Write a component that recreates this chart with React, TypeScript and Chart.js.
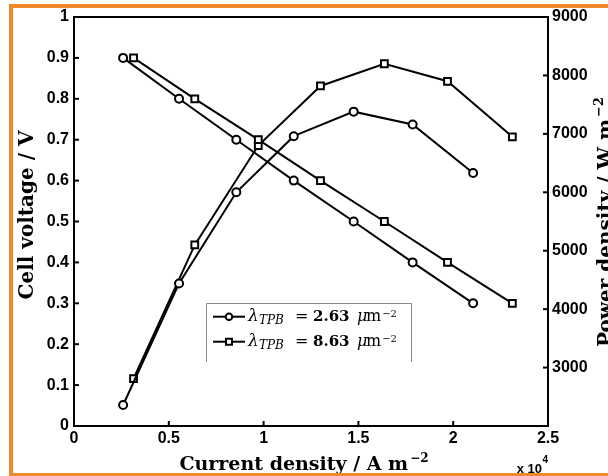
import React, { useEffect, useRef } from "react";
import { Chart, registerables } from "chart.js";

Chart.register(...registerables);

// Current density (A m^-2), cell voltage (V), power density (W m^-2)
const currentA = [2590, 5540, 8560, 11590, 14750, 17860, 21050];
const voltageA = [0.9, 0.8, 0.7, 0.6, 0.5, 0.4, 0.3];
const powerA = [2360, 4440, 6000, 6960, 7380, 7160, 6330];

const currentB = [3140, 6370, 9720, 13000, 16370, 19700, 23120];
const voltageB = [0.9, 0.8, 0.7, 0.6, 0.5, 0.4, 0.3];
const powerB = [2810, 5100, 6800, 7820, 8200, 7900, 6950];

const legendValues = ["2.63", "8.63"];
const legendMarkers = ["circle", "rect"];

const xTitle = "Current density / ";
const yTitle = "Cell voltage / V";
const y1Title = "Power density / W m";

const SERIF = '"DejaVu Serif", serif';
const SANS = '"Liberation Sans", Arial, sans-serif';

function pts(xs: number[], ys: number[]) {
  return xs.map((x, i) => ({ x, y: ys[i] }));
}

const lineStyle = (style: string, radius: number) => ({
  borderColor: "#000",
  borderWidth: 2,
  pointStyle: style,
  pointRadius: radius,
  pointHoverRadius: radius,
  pointBorderWidth: 2,
  pointBorderColor: "#000",
  pointBackgroundColor: "#fff",
  tension: 0,
  fill: false,
});

const decorPlugin = {
  id: "decor",
  beforeDraw(chart: any) {
    const ctx = chart.ctx;
    ctx.save();
    ctx.fillStyle = "#fff";
    ctx.fillRect(0, 0, chart.width, chart.height);
    ctx.restore();
  },
  afterDraw(chart: any) {
    const ctx = chart.ctx;
    const ca = chart.chartArea;
    const xs = chart.scales.x;
    const ys = chart.scales.y;
    const ys1 = chart.scales.y1;
    ctx.save();
    ctx.strokeStyle = "#000";
    ctx.lineWidth = 2;
    const line = (x1: number, y1: number, x2: number, y2: number) => {
      ctx.beginPath();
      ctx.moveTo(x1, y1);
      ctx.lineTo(x2, y2);
      ctx.stroke();
    };
    // top border
    line(ca.left - 1, ca.top, ca.right + 1, ca.top);
    // inward ticks
    ys.ticks.forEach((t: any) => {
      const p = ys.getPixelForValue(t.value);
      line(ca.left, p, ca.left + 5, p);
    });
    ys1.ticks.forEach((t: any) => {
      const p = ys1.getPixelForValue(t.value);
      line(ca.right - 5, p, ca.right, p);
    });
    xs.ticks.forEach((t: any) => {
      const p = xs.getPixelForValue(t.value);
      line(p, ca.bottom, p, ca.bottom - 5);
    });

    // legend
    const lx = 206, ly = 303, lw = 206, lh = 59;
    ctx.fillStyle = "#fff";
    ctx.fillRect(lx, ly, lw, lh);
    ctx.strokeStyle = "#8a8a8a";
    ctx.lineWidth = 1;
    ctx.beginPath();
    ctx.moveTo(lx + 0.5, ly + lh);
    ctx.lineTo(lx + 0.5, ly + 0.5);
    ctx.lineTo(lx + lw - 0.5, ly + 0.5);
    ctx.lineTo(lx + lw - 0.5, ly + lh);
    ctx.stroke();
    legendValues.forEach((val, i) => {
      const cy = 316.7 + i * 25;
      ctx.strokeStyle = "#000";
      ctx.lineWidth = 2;
      line(lx + 7, cy, lx + 39, cy);
      ctx.fillStyle = "#fff";
      ctx.beginPath();
      if (legendMarkers[i] === "circle") {
        ctx.arc(lx + 23, cy, 3.3, 0, Math.PI * 2);
      } else {
        ctx.rect(lx + 20, cy - 3, 6, 6);
      }
      ctx.fill();
      ctx.stroke();
      const b = cy + 4.5;
      ctx.fillStyle = "#000";
      ctx.textAlign = "left";
      ctx.textBaseline = "alphabetic";
      ctx.font = `italic 17px ${SERIF}`;
      ctx.fillText("λ", lx + 42, b);
      ctx.font = `italic 12px ${SERIF}`;
      ctx.fillText("TPB", lx + 53, b + 3);
      ctx.font = `16px ${SERIF}`;
      ctx.fillText("=", lx + 89, b);
      ctx.font = `bold 15px ${SERIF}`;
      ctx.fillText(val, lx + 107, b);
      ctx.font = `italic 16px ${SERIF}`;
      ctx.fillText("μ", lx + 151, b);
      ctx.font = `16px ${SERIF}`;
      ctx.fillText("m", lx + 160, b);
      const mw = ctx.measureText("m").width;
      ctx.font = `10px ${SERIF}`;
      ctx.fillText("−2", lx + 160 + mw + 1, b - 4);
    });

    // axis titles
    ctx.fillStyle = "#000";
    ctx.textBaseline = "alphabetic";
    // left
    ctx.save();
    ctx.translate(33, 215);
    ctx.rotate(-Math.PI / 2);
    ctx.font = `bold 20px ${SERIF}`;
    ctx.textAlign = "center";
    ctx.fillText(yTitle, 0, 0);
    ctx.restore();
    // right
    ctx.save();
    ctx.translate(612, 222);
    ctx.rotate(-Math.PI / 2);
    ctx.textAlign = "left";
    ctx.font = `bold 20px ${SERIF}`;
    const w1 = ctx.measureText(y1Title).width;
    ctx.font = `bold 13px ${SERIF}`;
    const w2 = ctx.measureText("−2").width;
    const s1 = -(w1 + w2 + 2) / 2;
    ctx.font = `bold 20px ${SERIF}`;
    ctx.fillText(y1Title, s1, 0);
    ctx.font = `bold 13px ${SERIF}`;
    ctx.fillText("−2", s1 + w1 + 2, -9);
    ctx.restore();
    // bottom
    ctx.save();
    ctx.textAlign = "left";
    const F = `bold 19px ${SERIF}`;
    ctx.font = F;
    const a1 = ctx.measureText(xTitle).width;
    const a2 = ctx.measureText("A m").width;
    ctx.font = `bold 12px ${SERIF}`;
    const a4 = ctx.measureText("−2").width;
    const tot = a1 + a2 + a4 + 2;
    let sx = 304 - tot / 2;
    const by = 470;
    ctx.font = F;
    ctx.fillText(xTitle, sx, by);
    sx += a1;
    ctx.fillText("A m", sx, by);
    sx += a2 + 2;
    ctx.font = `bold 12px ${SERIF}`;
    ctx.fillText("−2", sx, by - 8);
    ctx.restore();

    // x 10^4
    ctx.font = `bold 13px ${SANS}`;
    ctx.textAlign = "right";
    ctx.fillText("x 10", 542, 473);
    ctx.font = `bold 10px ${SANS}`;
    ctx.textAlign = "left";
    ctx.fillText("4", 542.5, 463);

    // orange frame
    ctx.fillStyle = "#f0892c";
    ctx.fillRect(9, 4, 4, 472);
    ctx.fillRect(9, 4, 599, 4);
    ctx.fillRect(9, 473, 599, 3);
    ctx.restore();
  },
};

const tickFont = { family: SANS, size: 16, weight: "bold" as const };

export default function App() {
  const ref = useRef<HTMLCanvasElement>(null);
  useEffect(() => {
    const chart = new Chart(ref.current as HTMLCanvasElement, {
      type: "line",
      data: {
        datasets: [
          { label: "V a", data: pts(currentA, voltageA), yAxisID: "y", ...lineStyle("circle", 4) },
          { label: "V b", data: pts(currentB, voltageB), yAxisID: "y", ...lineStyle("rect", 4.8) },
          { label: "P a", data: pts(currentA, powerA), yAxisID: "y1", ...lineStyle("circle", 4) },
          { label: "P b", data: pts(currentB, powerB), yAxisID: "y1", ...lineStyle("rect", 4.8) },
        ] as any,
      },
      options: {
        animation: false,
        responsive: false,
        maintainAspectRatio: false,
        devicePixelRatio: 1,
        layout: { padding: { top: 17, left: 0, right: 0, bottom: 0 } },
        plugins: { legend: { display: false }, tooltip: { enabled: false } },
        scales: {
          x: {
            type: "linear",
            position: "bottom",
            min: 0,
            max: 25000,
            grid: { display: false, drawTicks: false },
            border: { display: true, color: "#000", width: 2 },
            ticks: {
              stepSize: 5000,
              autoSkip: false,
              maxRotation: 0,
              padding: 3,
              color: "#000",
              font: tickFont,
              callback: (v: any) => String(Number(v) / 10000),
            },
            afterFit: (s: any) => { s.height = 50; },
          },
          y: {
            type: "linear",
            position: "left",
            min: 0,
            max: 1,
            grid: { display: false, drawTicks: false },
            border: { display: true, color: "#000", width: 2 },
            ticks: {
              stepSize: 0.1,
              autoSkip: false,
              padding: 5,
              color: "#000",
              font: tickFont,
              callback: (v: any) => {
                const n = Math.round(Number(v) * 10) / 10;
                return n === 0 || n === 1 ? String(n) : n.toFixed(1);
              },
            },
            afterFit: (s: any) => { s.width = 74; },
          },
          y1: {
            type: "linear",
            position: "right",
            min: 2000,
            max: 9000,
            grid: { display: false, drawTicks: false },
            border: { display: true, color: "#000", width: 2 },
            ticks: {
              stepSize: 1000,
              autoSkip: false,
              padding: 4,
              color: "#000",
              font: tickFont,
              callback: (v: any) => (Number(v) === 2000 ? "" : String(v)),
            },
            afterFit: (s: any) => { s.width = 60; },
          },
        },
      } as any,
      plugins: [decorPlugin],
    });
    return () => chart.destroy();
  }, []);
  return (
    <div style={{ position: "absolute", left: 0, top: 0, width: 608, height: 476 }}>
      <canvas ref={ref} width={608} height={476} style={{ display: "block" }} />
    </div>
  );
}
